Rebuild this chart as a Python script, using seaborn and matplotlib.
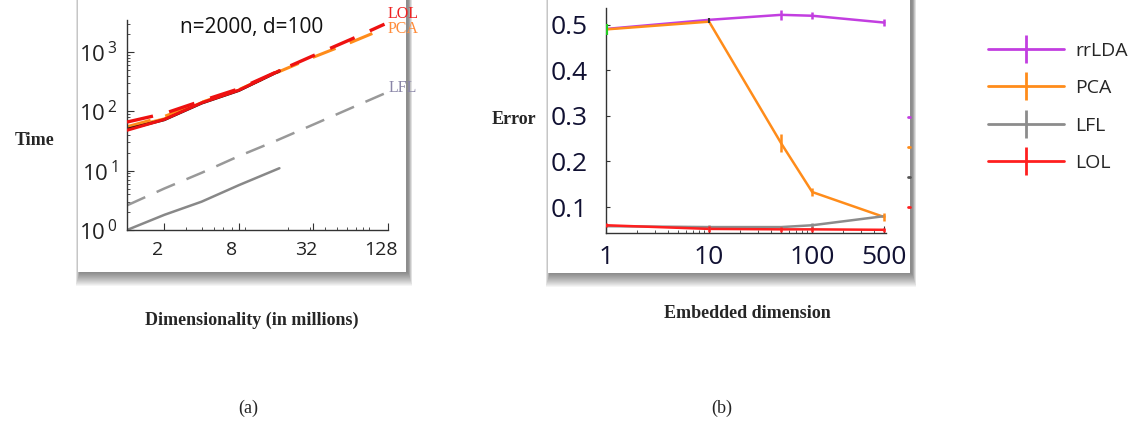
import matplotlib
matplotlib.use("Agg")
import matplotlib.pyplot as plt
import seaborn as sns
import numpy as np
import pandas as pd
from matplotlib.patches import Rectangle
from matplotlib.lines import Line2D
from matplotlib.transforms import ScaledTranslation

# ---------------- data: panel (a) ----------------
dims_measured = [1, 2, 4, 8, 17]            # millions
time_lol_meas = [48, 73, 139, 227, 485]
time_pca_meas = [53, 75, 141, 229, 488]
time_blk_meas = [50, 72, 137, 224, 478]
time_lfl_meas = [1.0, 1.8, 3.0, 5.7, 11]

dims_extrap = [1, 2, 4, 8, 16, 32, 64, 120]
time_lol_ext = [66, 92, 150, 240, 460, 870, 1630, 2950]
time_pca_ext = [55, 82, 142, 232, 445, 820, 1450, 2500]
time_lfl_ext = [2.6, 5.0, 9.2, 17.6, 32, 60, 113, 200]

xticks_a = [2, 8, 32, 128]

# ---------------- data: panel (b) ----------------
emb_dim = [1, 10, 50, 100, 500]
err_rrlda = [0.491, 0.511, 0.522, 0.520, 0.505]
sd_rrlda = [0.0, 0.0, 0.011, 0.008, 0.008]
err_pca = [0.490, 0.507, 0.240, 0.133, 0.078]
sd_pca = [0.0, 0.0, 0.02, 0.009, 0.009]
err_lfl = [0.058, 0.056, 0.056, 0.060, 0.080]
sd_lfl = [0.0, 0.005, 0.0, 0.005, 0.0]
err_lol = [0.060, 0.052, 0.051, 0.051, 0.050]
sd_lol = [0.004, 0.006, 0.006, 0.006, 0.004]
xticks_b = [1, 10, 100, 500]
yticks_b = [0.1, 0.2, 0.3, 0.4, 0.5]
legend_labels = ["rrLDA", "PCA", "LFL", "LOL"]

C_RR = "#c23ee0"
C_PCA = "#ff8c1a"
C_LFL = "#8c8c8c"
C_LOL = "#ff1f1f"

W, H = 1138, 423
sns.set_style("white")
plt.rcParams["font.family"] = ["Open Sans", "DejaVu Sans"]
plt.rcParams["mathtext.fontset"] = "custom"
plt.rcParams["mathtext.rm"] = "Open Sans"

fig = plt.figure(figsize=(W / 100, H / 100), dpi=100)
fig.patch.set_facecolor("white")


def fx(px):
    return px / W


def fy(py):
    return 1 - py / H


def panel(x0, x1, bottom):
    for k in range(1, 15):
        fig.add_artist(Rectangle((fx(x0 + 2 - k * 0.3), fy(bottom + k)),
                                 fx(x1 - x0 + k * 0.6), fy(-10) - fy(bottom + k),
                                 transform=fig.transFigure, facecolor="black",
                                 alpha=0.04, edgecolor="none", zorder=-2))
    fig.add_artist(Rectangle((fx(x0), fy(bottom)), fx(x1 - x0), fy(-10) - fy(bottom),
                             transform=fig.transFigure, facecolor="white",
                             edgecolor="none", zorder=-1))


panel(78, 406, 272)
panel(548, 910, 273)


def add_ax(x0, x1, top, bottom):
    ax = fig.add_axes([fx(x0), fy(bottom), fx(x1 - x0), fy(top) - fy(bottom)])
    ax.set_facecolor("none")
    for s in ["top", "right"]:
        ax.spines[s].set_visible(False)
    for s in ["left", "bottom"]:
        ax.spines[s].set_color("#333333")
        ax.spines[s].set_linewidth(1.0)
    ax.tick_params(which="both", direction="in", color="#333333",
                   bottom=True, left=True)
    ax.tick_params(which="major", length=5, width=0.8)
    ax.tick_params(which="minor", length=2.5, width=0.6)
    return ax


# ---------------- panel (a) ----------------
axa = add_ax(127, 388, 20, 230)
axa.set_xscale("log")
axa.set_yscale("log")


def line(ax, x, y, color, lw=1.8, ls="-", z=2):
    sns.lineplot(x=x, y=y, ax=ax, color=color, lw=lw, linestyle=ls,
                 sort=False, errorbar=None, zorder=z)


line(axa, dims_extrap, time_lfl_ext, "#999999", ls=(0, (8, 5)))
line(axa, dims_measured, time_lfl_meas, "#888888")
line(axa, dims_extrap, time_pca_ext, C_PCA, lw=2.2, ls=(0, (8, 5)))
line(axa, dims_extrap, time_lol_ext, "#ee1111", lw=2.4, ls=(0, (8, 5)), z=3)
line(axa, dims_measured, time_pca_meas, C_PCA, lw=2.0)
line(axa, dims_measured, time_blk_meas, "#111111", lw=2.0)
line(axa, dims_measured, time_lol_meas, "#ee1111", lw=2.2, z=3)

axa.set_xlim(1, 128)
axa.set_ylim(1, 10 ** 3.54)
axa.set_xticks(xticks_a)
axa.set_xticklabels([str(v) for v in xticks_a])
axa.tick_params(axis="both", which="major", labelsize=14, labelcolor="#222222")
axa.tick_params(axis="x", which="major", pad=8)
axa.tick_params(axis="y", which="major", pad=7)
axa.set_yticks([1, 10, 100, 1000])
axa.set_yticklabels([r"$\mathdefault{10^{\,%d}}$" % k for k in range(4)])
for t in axa.get_yticklabels():
    t.set_fontsize(16)
shift = ScaledTranslation(-7 / 100, 0, fig.dpi_scale_trans)
for t in axa.get_xticklabels():
    t.set_transform(t.get_transform() + shift)

fig.text(fx(252), fy(27), "n=2000, d=100", ha="center", va="center",
         fontsize=15, color="#111111")
fig.text(fx(388), fy(14), "LOL", ha="left", va="center", fontsize=11.5,
         family="Liberation Serif", color="#ee2222")
fig.text(fx(388), fy(29), "PCA", ha="left", va="center", fontsize=11.5,
         family="Liberation Serif", color="#ff8c3a")
fig.text(fx(389), fy(88), "LFL", ha="left", va="center", fontsize=11.5,
         family="Liberation Serif", color="#8a86a8")

# ---------------- panel (b) ----------------
axb = add_ax(606, 886, 8, 233)
axb.set_xscale("log")

series = [(err_rrlda, sd_rrlda, C_RR), (err_pca, sd_pca, C_PCA),
          (err_lfl, sd_lfl, C_LFL), (err_lol, sd_lol, C_LOL)]
order = [2, 3, 1, 0]
for i in order:
    y, sd, c = series[i]
    line(axb, emb_dim, y, c, lw=1.8, z=2 + i * 0.1 if i != 3 else 3)
    axb.errorbar(emb_dim, y, yerr=sd, fmt="none", ecolor=c, elinewidth=1.8,
                 capsize=0, zorder=4)
# green / dark marks at first points
axb.errorbar([1], [0.490], yerr=[0.012], fmt="none", ecolor="#22cc22",
             elinewidth=3, zorder=5)
axb.errorbar([10], [0.510], yerr=[0.005], fmt="none", ecolor="#333333",
             elinewidth=1.5, zorder=5)

axb.set_xlim(1, 520)
axb.set_ylim(0.043, 0.537)
axb.set_xticks(xticks_b)
axb.set_xticklabels([str(v) for v in xticks_b])
axb.set_yticks(yticks_b)
axb.set_yticklabels([f"{v:.1f}" for v in yticks_b])
axb.tick_params(axis="both", which="major", labelsize=19, labelcolor="#111133")
axb.tick_params(axis="x", which="major", pad=9)
axb.tick_params(axis="y", which="major", length=3, pad=13)

# tiny cut-off legend marks at right edge of panel (b)
for yy, c in zip([117, 147, 177, 207], [C_RR, C_PCA, "#555555", C_LOL]):
    fig.add_artist(Line2D([fx(908), fx(910)], [fy(yy), fy(yy)], color=c, lw=2,
                          transform=fig.transFigure))

handles = [Line2D([0], [0], color=c, lw=2, marker="|", markersize=20,
                  markeredgewidth=2) for c in [C_RR, C_PCA, C_LFL, C_LOL]]
fig.legend(handles, legend_labels, loc="center left",
           bbox_to_anchor=(fx(970), fy(107)), frameon=False, fontsize=14,
           handlelength=3.95, labelspacing=1.0, handletextpad=0.55)

# ---------------- labels ----------------
serif = "Liberation Serif"
fig.text(fx(35), fy(140), "Time", ha="center", va="center", fontsize=13,
         fontweight="bold", family=serif)
fig.text(fx(252), fy(320), "Dimensionality (in millions)", ha="center",
         va="center", fontsize=13, fontweight="bold", family=serif)
fig.text(fx(514), fy(120), "Error", ha="center", va="center", fontsize=13,
         fontweight="bold", family=serif)
fig.text(fx(747), fy(313), "Embedded dimension", ha="center", va="center",
         fontsize=13, fontweight="bold", family=serif)
fig.text(fx(248), fy(408), "(a)", ha="center", va="center", fontsize=13,
         family=serif)
fig.text(fx(722), fy(408), "(b)", ha="center", va="center", fontsize=13,
         family=serif)

fig.savefig("out.png", dpi=100, facecolor="white")
